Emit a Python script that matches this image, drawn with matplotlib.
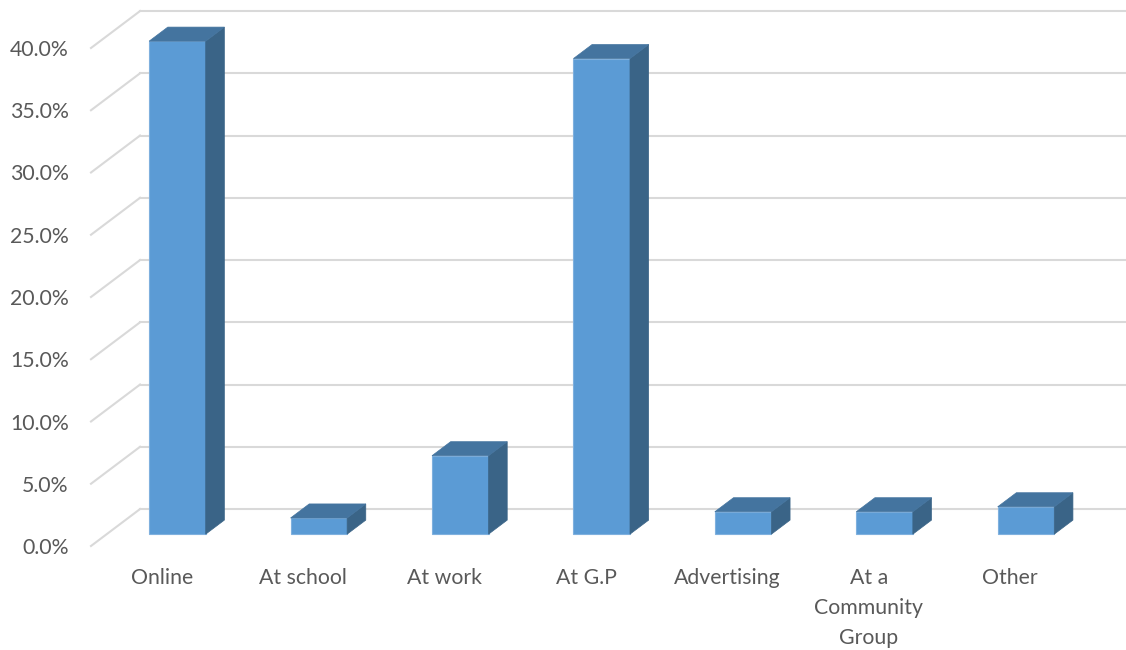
import matplotlib
matplotlib.use("Agg")
import matplotlib.pyplot as plt
from matplotlib.patches import Polygon
from matplotlib.ticker import FuncFormatter

categories = ["Online", "At school", "At work", "At G.P", "Advertising",
              "At a\nCommunity\nGroup", "Other"]
shares = [39.6, 1.3, 6.3, 38.2, 1.8, 1.8, 2.2]
yticks = [0, 5, 10, 15, 20, 25, 30, 35, 40]

FRONT = "#5B9BD5"
TOP = "#44749F"
SIDE = "#3A6487"
GRID = "#D9D9D9"
TEXT = "#595959"

# oblique depth of the floor in data units (x in categories, y in percent)
DX = 0.347
DY = 2.97
BAR_FRONT = 0.32
BAR_BACK = 0.70
WIDTH = 0.4

plt.rcParams["font.family"] = ["Lato", "DejaVu Sans"]

fig = plt.figure(figsize=(11.26, 6.5), dpi=100)
ax = fig.add_axes([91 / 1126, 104 / 650, 990 / 1126, 498 / 650])
ax.set_xlim(-0.5, 6.5)
ax.set_ylim(0, 40)
for s in ax.spines.values():
    s.set_visible(False)

# walls: slanted side-wall lines and horizontal back-wall lines
for v in yticks:
    ax.plot([-0.5, -0.5 + DX], [v, v + DY], color=GRID, lw=1.5,
            clip_on=False, zorder=1)
    ax.plot([-0.5 + DX, 6.5 + DX + 0.1], [v + DY, v + DY], color=GRID, lw=1.5,
            clip_on=False, zorder=1)

xs = list(range(len(categories)))
fx = [x + BAR_FRONT * DX for x in xs]
ax.bar(fx, shares, width=WIDTH, bottom=BAR_FRONT * DY, color=FRONT,
       edgecolor="#7FB0DE", linewidth=0.8, zorder=3, clip_on=False)

d = (BAR_BACK - BAR_FRONT)
for x, v in zip(fx, shares):
    left, right = x - WIDTH / 2, x + WIDTH / 2
    y0 = BAR_FRONT * DY
    y1 = y0 + v
    side = Polygon([(right, y0), (right + d * DX, y0 + d * DY),
                    (right + d * DX, y1 + d * DY), (right, y1)],
                   closed=True, facecolor=SIDE, edgecolor=SIDE, lw=0.5,
                   zorder=3, clip_on=False)
    top = Polygon([(left, y1), (right, y1), (right + d * DX, y1 + d * DY),
                   (left + d * DX, y1 + d * DY)],
                  closed=True, facecolor=TOP, edgecolor=TOP, lw=0.5,
                  zorder=3, clip_on=False)
    ax.add_patch(side)
    ax.add_patch(top)

ax.set_yticks(yticks)
ax.yaxis.set_major_formatter(FuncFormatter(lambda v, p: f"{v:.1f}%"))
ax.set_xticks(xs)
ax.set_xticklabels(categories, linespacing=1.62)
ax.tick_params(axis="both", length=0, labelsize=15.3, colors=TEXT)
ax.tick_params(axis="y", pad=16)
ax.tick_params(axis="x", pad=16)

fig.savefig("out.png", dpi=100, facecolor="white")
